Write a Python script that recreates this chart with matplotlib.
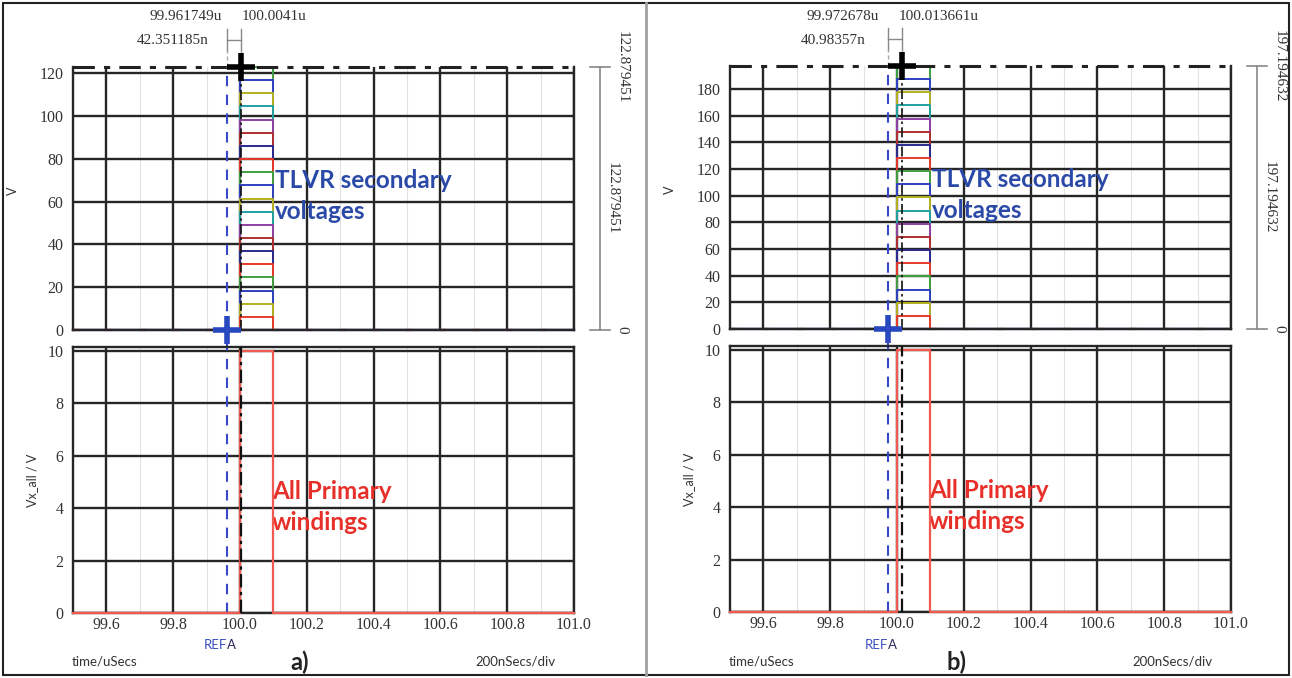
import matplotlib
matplotlib.use("Agg")
import matplotlib.pyplot as plt
from matplotlib.lines import Line2D
from matplotlib.patches import Rectangle
import matplotlib.transforms as mtransforms

# -------- DATA --------
t_start = 99.5
t_end = 101.0
t_on = 100.0
t_off = 100.1
primary_level = 10.0

x_ticks = [99.6, 99.8, 100.0, 100.2, 100.4, 100.6, 100.8, 101.0]
x_minor = [99.5, 99.7, 99.9, 100.1, 100.3, 100.5, 100.7, 100.9]

# panel a
ref_a = 99.961749
cur_a = 100.0041
delta_a = "42.351185n"
vmax_a = 122.879451
levels_a = [6.1, 12.3, 18.4, 24.6, 30.7, 36.9, 43.0, 49.2, 55.3, 61.4,
            67.6, 73.7, 79.9, 86.0, 92.2, 98.3, 104.5, 110.6, 116.7, 122.9]
yticks_a = [0, 20, 40, 60, 80, 100, 120]

# panel b
ref_b = 99.972678
cur_b = 100.013661
delta_b = "40.98357n"
vmax_b = 197.194632
levels_b = [9.9, 19.7, 29.6, 39.4, 49.3, 59.2, 69.0, 78.9, 88.7, 98.6,
            108.5, 118.3, 128.2, 138.1, 147.9, 157.8, 167.6, 177.5, 187.3, 197.2]
yticks_b = [0, 20, 40, 60, 80, 100, 120, 140, 160, 180]

yticks_low = [0, 2, 4, 6, 8, 10]

# colours of the 20 secondary traces, bottom to top
sec_colors = ["#e8392b", "#b5b020", "#3040c0", "#3fa040", "#e8392b",
              "#2a2a90", "#b03030", "#9040a0", "#20a0a0", "#b5b020",
              "#3040c0", "#3fa040", "#e8392b", "#2a2a90", "#b03030",
              "#9040a0", "#20a0a0", "#b5b020", "#3040c0", "#3fa040"]

W, H = 1292, 678
fig = plt.figure(figsize=(W / 100, H / 100), dpi=100)

SERIF = "Liberation Serif"
SANS = "Lato"
GRID = "#262626"


def px(x, y):
    return x / W, 1 - y / H


def box(l, t, r, b):
    return [l / W, 1 - b / H, (r - l) / W, (b - t) / H]


def style_axes(ax, yticks, ymax):
    ax.set_xlim(t_start, t_end)
    ax.set_ylim(0, ymax)
    ax.set_xticks(x_ticks)
    ax.set_xticks(x_minor, minor=True)
    ax.set_yticks(yticks)
    ax.grid(True, which="major", color=GRID, linewidth=1.7)
    ax.grid(True, which="minor", axis="x", color="#e2e2e2", linewidth=0.8)
    ax.set_axisbelow(True)
    ax.tick_params(which="both", length=0, labelsize=11.5)
    ax.tick_params(axis="y", pad=7)
    ax.tick_params(axis="x", pad=3)
    for lab in ax.get_xticklabels() + ax.get_yticklabels():
        lab.set_fontfamily(SERIF)
        lab.set_color("#333333")
    for s in ax.spines.values():
        s.set_color(GRID)
        s.set_linewidth(1.7)


def panel(left, top_y, levels, vmax, yticks, ref, cur, delta, ref_lbl, cur_lbl, tag):
    # ---- secondary voltages ----
    ax = fig.add_axes(box(left, top_y, left + 501, top_y + 263))
    style_axes(ax, yticks, vmax)
    ax.spines["top"].set_visible(False)
    ax.set_xticklabels([])
    # draw highest trace first so each vertical segment takes the colour of the level above it
    for lv, c in reversed(list(zip(levels, sec_colors))):
        ax.plot([t_start, t_on, t_on, t_off, t_off, t_end],
                [0, 0, lv, lv, 0, 0], color=c, linewidth=1.4, clip_on=False)
    ax.plot([t_start, t_end], [0, 0], color="#3040c0", linewidth=1.6, clip_on=False)
    ax.plot([t_start, t_end], [0, 0], color="#e8392b", linewidth=1.6,
            dashes=(3, 12), clip_on=False)
    ax.axhline(vmax, color="#222222", linewidth=2.2, dashes=(7, 3, 2, 3), clip_on=False)
    ax.axvline(ref, color="#3848c8", linewidth=1.5, dashes=(5, 4), clip_on=False)
    ax.axvline(cur, color="#111111", linewidth=1.2, dashes=(6, 2, 1.5, 2))
    ax.plot([ref], [0], marker="+", markersize=20, markeredgewidth=4,
            color="#2848c0", clip_on=False, zorder=6)
    ax.plot([cur], [vmax], marker="+", markersize=20, markeredgewidth=4,
            color="black", clip_on=False, zorder=6)
    ax.set_ylabel("V", fontfamily=SANS, fontsize=9, color="#333333")
    ax.yaxis.set_label_coords(-54 / 501, 0.53)

    # cursor delta bracket above the plot
    tr = mtransforms.blended_transform_factory(ax.transData, ax.transAxes)
    for xv in (ref, cur):
        ax.plot([xv, xv], [1.06, 1.145], transform=tr, color="#888888",
                linewidth=1.0, clip_on=False)
    ax.plot([ref, cur], [1.103, 1.103], transform=tr, color="#888888",
            linewidth=1.0, clip_on=False)
    ax.plot([ref, ref], [1.0, 1.06], transform=tr, color="#aaaaaa",
            linewidth=1.0, dashes=(3, 2), clip_on=False)
    ax.plot([cur, cur], [1.0, 1.06], transform=tr, color="#aaaaaa",
            linewidth=1.0, dashes=(3, 2), clip_on=False)

    # measurement bracket on the right
    tr2 = mtransforms.blended_transform_factory(ax.transAxes, ax.transData)
    ax.plot([1.052, 1.052], [0, vmax], transform=tr2, color="#888888",
            linewidth=1.2, clip_on=False)
    for yv in (0, vmax):
        ax.plot([1.032, 1.072], [yv, yv], transform=tr2, color="#888888",
                linewidth=1.2, clip_on=False)
    vtxt = f"{vmax:.6f}"
    ax.text(1.096, vmax, vtxt, transform=tr2, rotation=270, ha="center", va="center",
            fontfamily=SERIF, fontsize=11, color="#333333")
    ax.text(1.076, vmax / 2, vtxt, transform=tr2, rotation=270, ha="center", va="center",
            fontfamily=SERIF, fontsize=11, color="#333333")
    ax.text(1.096, 0, "0", transform=tr2, rotation=270, ha="center", va="center",
            fontfamily=SERIF, fontsize=11, color="#333333")

    ax.text(t_off + 0.005, vmax * 0.51, "TLVR secondary\nvoltages", fontfamily=SANS,
            fontsize=17.5, fontweight="bold", color="#2b4aa8", linespacing=1.4,
            va="center", ha="left")

    # ---- primary windings ----
    ax2 = fig.add_axes(box(left, top_y + 280, left + 501, top_y + 546))
    style_axes(ax2, yticks_low, 10.15)
    ax2.plot([t_start, t_on, t_on, t_off, t_off, t_end],
             [0, 0, primary_level, primary_level, 0, 0],
             color="#f05a50", linewidth=1.6, clip_on=False, zorder=5)
    ax2.axvline(ref, ymin=0, ymax=1.07, color="#3848c8", linewidth=1.5,
                dashes=(5, 4), clip_on=False)
    ax2.axvline(cur, color="#111111", linewidth=1.6, dashes=(6, 2, 1.5, 2), zorder=6)
    ax2.set_ylabel("Vx_all / V", fontfamily=SANS, fontsize=9, color="#333333")
    ax2.yaxis.set_label_coords(-35 / 501, 0.5)
    ax2.text(t_off - 0.005, 4.05, "All Primary\nwindings", fontfamily=SANS,
             fontsize=17.5, fontweight="bold", color="#e8302a", linespacing=1.4,
             va="center", ha="left")

    # cursor labels
    trb = mtransforms.blended_transform_factory(ax2.transData, fig.transFigure)
    fig.text(*px(left + 149, 16), ref_lbl, ha="right", va="center",
             fontfamily=SERIF, fontsize=11, color="#333333")
    fig.text(*px(left + 169, 16), cur_lbl, ha="left", va="center",
             fontfamily=SERIF, fontsize=11, color="#333333")
    fig.text(*px(left + 136, 40), delta, ha="right", va="center",
             fontfamily=SERIF, fontsize=11, color="#333333")
    yb = 1 - 645 / H
    ax2.text(ref, yb, "REF", transform=trb, ha="right", va="center",
             fontfamily=SANS, fontsize=9.5, color="#3a4fc0")
    ax2.text(ref, yb, "A", transform=trb, ha="left", va="center",
             fontfamily=SANS, fontsize=9.5, color="#2a2a60")
    fig.text(*px(left - 1, 661), "time/uSecs", ha="left", va="center",
             fontfamily=SANS, fontsize=9.5, color="#333333")
    fig.text(*px(left + 402, 661), "200nSecs/div", ha="left", va="center",
             fontfamily=SANS, fontsize=9.5, color="#333333")
    fig.text(*px(left + 227, 662), tag, ha="center", va="center",
             fontfamily=SANS, fontsize=17, fontweight="bold", color="#222222")


panel(73, 67, levels_a, vmax_a, yticks_a, ref_a, cur_a, delta_a,
      "99.961749u", "100.0041u", "a)")
panel(730, 66, levels_b, vmax_b, yticks_b, ref_b, cur_b, delta_b,
      "99.972678u", "100.013661u", "b)")

# frame and panel separator
fig.add_artist(Rectangle((3 / W, 3 / H), 1 - 6 / W, 1 - 6 / H, transform=fig.transFigure,
                         fill=False, edgecolor="#222222", linewidth=1.5))
fig.add_artist(Line2D([646 / W, 646 / W], [3 / H, 1 - 3 / H], transform=fig.transFigure,
                      color="#a0a0a0", linewidth=2.0))

plt.savefig("out.png", dpi=100)
